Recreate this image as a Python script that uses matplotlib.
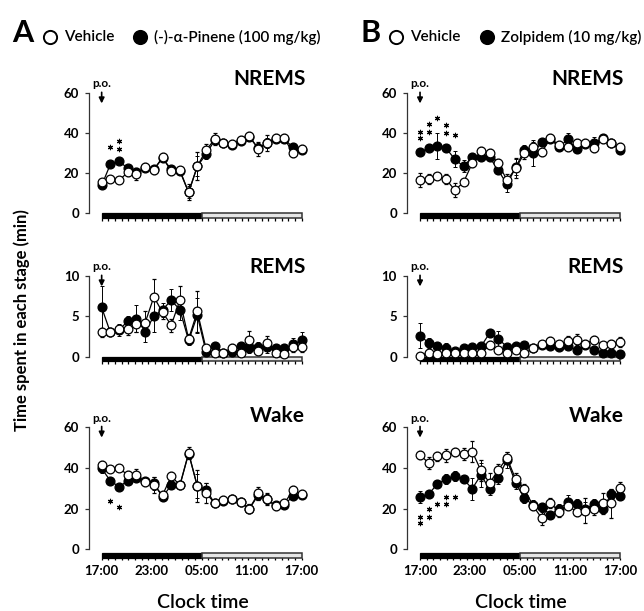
import numpy as np
import matplotlib
matplotlib.use("Agg")
import matplotlib.pyplot as plt
from matplotlib.lines import Line2D
from matplotlib.patches import Rectangle
from matplotlib.transforms import offset_copy

# ---------------------------------------------------------------- data
clock_labels = ["17:00", "23:00", "05:00", "11:00", "17:00"]
clock_ticks = [0, 6, 12, 18, 24]
n_points = 24

# panel A : vehicle vs (-)-alpha-pinene
veh_nrem_a = [15.5, 17.3, 16.5, 20.5, 19.8, 23.0, 21.8, 28.0, 21.0, 21.5, 10.5, 23.5,
              31.5, 37.0, 35.3, 34.6, 36.5, 38.5, 32.2, 35.3, 37.5, 37.5, 30.0, 32.0]
veh_nrem_a_err = [1.5, 1.5, 1.5, 2, 3, 2, 2, 2, 2, 1.5, 4, 7,
                  3, 3, 2, 2, 2, 2, 3.5, 4, 2, 2, 2, 2]
pin_nrem_a = [14.0, 24.5, 26.0, 22.5, 20.5, 22.5, 22.0, 27.5, 22.0, 21.0, 10.5, 23.5,
              29.5, 36.5, 35.0, 34.0, 36.0, 38.0, 32.5, 35.0, 37.0, 37.0, 33.0, 31.5]
pin_nrem_a_err = [1.5, 1.5, 1.5, 1.5, 2, 1.5, 2, 2, 1.5, 1.5, 3, 5,
                  2.5, 2, 2, 2, 2, 2, 2.5, 2.5, 2, 2, 2, 1.5]

veh_rem_a = [3.0, 3.0, 3.4, 3.4, 4.0, 4.2, 7.4, 5.5, 3.9, 7.0, 2.2, 5.6,
             1.0, 0.5, 0.5, 1.1, 0.5, 2.0, 0.7, 1.7, 0.4, 0.3, 1.2, 1.2]
veh_rem_a_err = [0.6, 0.5, 0.5, 0.7, 1.0, 1.5, 2.2, 0.8, 0.8, 1.7, 0.6, 2.5,
                 0.4, 0.3, 0.3, 0.4, 0.3, 1.2, 0.4, 0.8, 0.3, 0.3, 0.6, 0.6]
pin_rem_a = [6.1, 3.0, 3.3, 4.4, 4.7, 3.1, 5.0, 5.8, 7.0, 5.8, 2.0, 5.1,
             0.6, 1.3, 0.5, 0.6, 1.3, 1.1, 1.2, 1.2, 1.0, 1.0, 1.5, 2.0]
pin_rem_a_err = [2.7, 0.5, 0.8, 0.6, 1.7, 1.3, 2.0, 0.9, 1.4, 1.2, 0.6, 2.2,
                 0.3, 0.5, 0.3, 0.3, 0.5, 0.6, 0.6, 0.7, 0.6, 0.6, 0.8, 1.0]

veh_wake_a = [41.3, 39.3, 40.0, 36.4, 36.4, 33.1, 31.5, 26.6, 35.9, 31.5, 47.4, 31.0,
              27.7, 22.5, 24.1, 24.5, 23.0, 20.0, 27.4, 24.5, 21.2, 22.5, 29.0, 27.0]
veh_wake_a_err = [2, 1.5, 1.5, 2, 3, 2, 4, 2, 2, 2, 3, 8,
                  5, 2, 2, 2, 2, 2, 3, 3, 2, 2, 2, 2]
pin_wake_a = [39.7, 33.6, 30.7, 33.6, 34.8, 33.5, 32.3, 25.7, 31.5, 31.5, 47.0, 31.0,
              29.3, 22.5, 23.8, 24.5, 23.0, 20.0, 26.5, 24.5, 21.5, 21.8, 26.1, 26.6]
pin_wake_a_err = [2, 2, 1.5, 1.5, 2, 2, 3, 2, 2, 2, 2.5, 6,
                  3, 2, 2, 2, 2, 2, 2.5, 2.5, 2, 2, 2, 2]

# panel B : vehicle vs zolpidem
veh_nrem_b = [16.5, 17.3, 18.8, 17.0, 11.6, 15.5, 25.0, 31.0, 30.0, 25.0, 16.5, 22.5,
              30.0, 33.0, 30.5, 37.5, 34.0, 33.0, 35.0, 35.0, 32.5, 37.0, 35.0, 33.0]
veh_nrem_b_err = [3.5, 2.5, 1, 2.5, 3.5, 1.5, 2, 2, 2, 2, 3, 5,
                  3, 2.5, 2, 2, 2, 2, 2, 2, 2, 2, 2, 2]
zol_nrem_b = [30.5, 32.5, 33.5, 32.5, 27.0, 23.5, 28.0, 28.0, 28.0, 21.5, 14.5, 23.0,
              31.5, 30.0, 35.5, 37.0, 33.0, 37.0, 32.0, 34.5, 35.0, 37.5, 35.0, 31.5]
zol_nrem_b_err = [2, 2, 6.5, 2, 4, 3, 2, 2, 2, 2, 4, 4,
                  2.5, 6.5, 2, 2, 2, 3, 2, 2, 3, 2, 2, 2]

veh_rem_b = [0.1, 0.5, 0.3, 0.5, 0.4, 0.4, 0.4, 0.4, 1.4, 0.8, 0.4, 0.8,
             0.4, 1.0, 1.5, 1.9, 1.5, 1.9, 2.1, 1.6, 2.1, 1.4, 1.6, 1.8]
veh_rem_b_err = [0.1, 0.2, 0.2, 0.3, 0.2, 0.2, 0.2, 0.2, 0.5, 0.3, 0.2, 0.3,
                 0.2, 0.3, 0.4, 0.5, 0.4, 0.6, 0.7, 0.5, 0.5, 0.4, 0.5, 0.6]
zol_rem_b = [2.6, 1.7, 1.3, 1.1, 0.75, 1.0, 1.2, 1.25, 2.9, 2.2, 1.2, 1.3,
             1.4, 1.1, 1.4, 1.3, 1.2, 1.3, 0.8, 1.4, 0.8, 0.4, 0.4, 0.3]
zol_rem_b_err = [1.6, 0.6, 0.5, 0.6, 0.3, 0.3, 0.4, 0.4, 0.5, 1.0, 0.4, 0.4,
                 0.4, 0.3, 0.4, 0.4, 0.4, 0.4, 0.4, 0.5, 0.3, 0.3, 0.3, 0.3]

veh_wake_b = [46.4, 42.3, 45.6, 46.1, 47.7, 46.7, 48.0, 38.7, 32.5, 39.0, 44.8, 34.4,
              29.7, 21.3, 15.2, 22.6, 18.5, 21.3, 18.5, 19.0, 20.0, 22.5, 22.5, 30.0]
veh_wake_b_err = [2, 3, 2, 3, 2, 3, 5, 5, 5, 3, 3, 3,
                  2.5, 2, 3.5, 2.5, 2.5, 2, 2, 6, 3, 5, 7, 3]
zol_wake_b = [25.6, 27.2, 32.0, 34.4, 36.0, 34.4, 29.7, 36.5, 29.5, 35.2, 43.9, 32.5,
              25.0, 21.8, 20.5, 16.9, 20.0, 23.0, 22.0, 20.0, 22.0, 20.0, 27.0, 26.0]
zol_wake_b_err = [3, 2, 2, 2.5, 2.5, 2, 5.5, 6, 3, 3, 4, 3,
                  2.5, 2.5, 2, 2, 2, 3.5, 2.5, 3, 2.5, 2, 2.5, 2]

# significance marks: (point index, heights of the asterisks)
stars_nrem_a = [(1, [33]), (2, [32, 36])]
stars_wake_a = [(1, [23.5]), (2, [20.7])]
stars_nrem_b = [(0, [37.4, 40.7]), (1, [40.4, 44.4]), (2, [47.4]), (3, [40.3, 44.0]), (4, [39.0])]
stars_wake_b = [(0, [12.7, 16.0]), (1, [16.0, 19.6]), (2, [22.1]), (3, [22.1, 25.9]), (4, [25.9])]

# ---------------------------------------------------------------- figure
plt.rcParams["font.family"] = ["Lato", "DejaVu Sans"]

W, H = 644, 611
fig = plt.figure(figsize=(W / 100, H / 100), dpi=100)

x = np.linspace(0, 24, n_points)


def fig_ax(left_px, x_lo, top_px, bot_px, ylim):
    width_px = (24.6 - x_lo) * 200 / 24
    ax = fig.add_axes([left_px / W, 1 - bot_px / H, width_px / W, (bot_px - top_px) / H])
    ax.set_xlim(x_lo, 24.6)
    ax.set_ylim(*ylim)
    return ax


def draw_panel(ax, veh, veh_err, drug, drug_err, stars, title, yticks,
               title_dy, bar_drop, bottom):
    ymax = yticks[-1]
    ax.errorbar(x, drug, yerr=drug_err, fmt="-o", color="black", mfc="black", mec="black",
                ms=6.3, lw=0.9, elinewidth=0.7, capsize=1.6, capthick=0.7, zorder=3)
    ax.errorbar(x, veh, yerr=veh_err, fmt="-o", color="black", mfc="white", mec="black",
                ms=6.3, mew=0.9, lw=0.9, elinewidth=0.7, capsize=1.6, capthick=0.7, zorder=4)

    for i, heights in stars:
        ax.plot([x[i]] * len(heights), heights, ls="none", marker=(6, 2, 0),
                ms=3.8, mew=0.8, color="black", zorder=5)

    # dark / light bar under the data
    ppu = ax.bbox.height / (ax.get_ylim()[1] - ax.get_ylim()[0])
    top = -bar_drop / ppu
    h = 4.5 / ppu
    ax.add_patch(Rectangle((0, top - h), 12, h, fc="black", ec="black", lw=0.9, clip_on=False))
    ax.add_patch(Rectangle((12, top - h), 12, h, fc="#e6e6e6", ec="#333333", lw=1.1,
                           clip_on=False))
    ax.vlines(np.linspace(0, 24, 31), top - h - 2.8 / ppu, top - h, color="black",
              lw=0.9, clip_on=False)

    for s in ["top", "right", "bottom"]:
        ax.spines[s].set_visible(False)
    ax.spines["left"].set_bounds(0, ymax)
    ax.spines["left"].set_linewidth(0.9)
    ax.spines["left"].set_color("#333333")
    ax.set_yticks(yticks)
    ax.set_yticklabels([str(t) for t in yticks], fontweight="bold", fontsize=9.5)
    ax.tick_params(axis="y", length=3, width=0.9, pad=4, color="#333333")
    if bottom:
        ax.set_xticks(clock_ticks)
        ax.set_xticklabels(clock_labels, fontweight="bold", fontsize=9.5)
        ax.tick_params(axis="x", length=0, pad=5.5)
    else:
        ax.set_xticks([])

    ax.annotate(title, xy=(1, 1), xycoords="axes fraction", xytext=(-1, title_dy),
                textcoords="offset points", ha="right", va="center",
                fontsize=15, fontweight="bold")

    # p.o. arrow
    tr = offset_copy(ax.transData, fig=fig, x=0, y=-7.5, units="points")
    ax.annotate("", xy=(0, ymax), xycoords=tr, xytext=(0, 8), textcoords="offset points",
                arrowprops=dict(arrowstyle="-|>", color="black", lw=1.2, mutation_scale=8,
                                shrinkA=0, shrinkB=0))
    ax.annotate("p.o.", xy=(0, ymax), xytext=(0, 6.5), textcoords="offset points",
                ha="center", va="center", fontsize=8.5, fontweight="bold")


rows = [  # top px, bottom px, ylim, yticks, title offset, bar drop
    (89.0, 221.5, (-4, 62), [0, 20, 40, 60], 7.5, 0),
    (272.0, 364.6, (-1, 10.5), [0, 5, 10], 3.5, 0),
    (423.1, 557.3, (-4, 62), [0, 20, 40, 60], 5.0, 4),
]
titles = ["NREMS", "REMS", "Wake"]

panel_a = [(veh_nrem_a, veh_nrem_a_err, pin_nrem_a, pin_nrem_a_err, stars_nrem_a),
           (veh_rem_a, veh_rem_a_err, pin_rem_a, pin_rem_a_err, []),
           (veh_wake_a, veh_wake_a_err, pin_wake_a, pin_wake_a_err, stars_wake_a)]
panel_b = [(veh_nrem_b, veh_nrem_b_err, zol_nrem_b, zol_nrem_b_err, stars_nrem_b),
           (veh_rem_b, veh_rem_b_err, zol_rem_b, zol_rem_b_err, []),
           (veh_wake_b, veh_wake_b_err, zol_wake_b, zol_wake_b_err, stars_wake_b)]

for (left, x_lo), panel in [((89, -1.52), panel_a), ((406.7, -1.6), panel_b)]:
    for r, (row, series) in enumerate(zip(rows, panel)):
        top_px, bot_px, ylim, yticks, tdy, drop = row
        ax = fig_ax(left, x_lo, top_px, bot_px, ylim)
        veh, veh_err, drug, drug_err, stars = series
        draw_panel(ax, veh, veh_err, drug, drug_err, stars, titles[r], yticks,
                   tdy, drop, r == 2)

# axis titles
fig.text(22 / W, 1 - 320 / H, "Time spent in each stage (min)", rotation=90,
         ha="center", va="center", fontsize=12, fontweight="bold")
fig.text(203 / W, 1 - 603 / H, "Clock time", ha="center", va="center", fontsize=14,
         fontweight="semibold")
fig.text(521 / W, 1 - 603 / H, "Clock time", ha="center", va="center", fontsize=14,
         fontweight="semibold")


# panel letters and legends
def legend_item(x_px, filled, label):
    fig.add_artist(Line2D([x_px / W], [1 - 37 / H], transform=fig.transFigure, marker="o",
                          ms=9.5, mew=1.4, mec="black", mfc="black" if filled else "white",
                          ls="none"))
    fig.text((x_px + 14) / W, 1 - 37 / H, label, ha="left", va="center",
             fontsize=11, fontweight="semibold")


fig.text(23 / W, 1 - 33 / H, "A", ha="center", va="center", fontsize=22, fontweight="bold")
legend_item(50, False, "Vehicle")
legend_item(140, True, "(-)-α-Pinene (100 mg/kg)")
fig.text(371 / W, 1 - 33 / H, "B", ha="center", va="center", fontsize=22, fontweight="bold")
legend_item(396, False, "Vehicle")
legend_item(487, True, "Zolpidem (10 mg/kg)")

fig.savefig("out.png", dpi=100)
